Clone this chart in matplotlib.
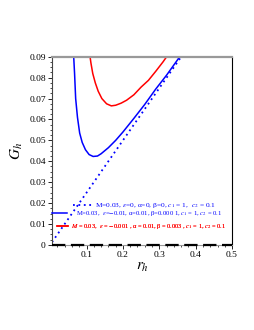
import matplotlib
matplotlib.use("Agg")
import matplotlib.pyplot as plt
from matplotlib.ticker import AutoMinorLocator

# values
r_dot = [0.005, 0.1, 0.2, 0.3, 0.365]
G_dot = [0.0013, 0.025, 0.05, 0.075, 0.0912]

r_blue = [0.064, 0.067, 0.070, 0.075, 0.081, 0.088, 0.097, 0.107, 0.118, 0.13,
          0.14, 0.16, 0.18, 0.20, 0.23, 0.26, 0.29, 0.32, 0.35, 0.365]
G_blue = [0.092, 0.082, 0.070, 0.061, 0.0535, 0.049, 0.0455, 0.0432, 0.0423, 0.0425,
          0.0436, 0.0465, 0.0500, 0.0540, 0.0605, 0.0672, 0.0745, 0.0812, 0.0885, 0.0922]

r_red = [0.108, 0.112, 0.117, 0.124, 0.132, 0.142, 0.155, 0.168, 0.18, 0.195,
         0.21, 0.23, 0.25, 0.27, 0.29, 0.31, 0.325]
G_red = [0.092, 0.087, 0.082, 0.0775, 0.0735, 0.070, 0.0675, 0.0665, 0.0668, 0.0678,
         0.0692, 0.0718, 0.0755, 0.0787, 0.0830, 0.0875, 0.0912]

r_zero = [0.005, 0.5]
G_zero = [0.0, 0.0]

labels = [
    r"M=0.03, $\epsilon$=0, α=0, β=0, $c_1$ = 1,  $c_2$ = 0.1",
    r"M=0.03,  $\epsilon$=$-$0.01, α=0.01, β=0.000 1, $c_1$ = 1, $c_2$ = 0.1",
    r"$M$ = 0.03,  $\epsilon$ = $-$0.001 , α = 0.01, β = 0.003 , $c_1$ = 1, $c_2$ = 0.1",
]
xticks = [0.1, 0.2, 0.3, 0.4, 0.5]
yticks = [0, 0.01, 0.02, 0.03, 0.04, 0.05, 0.06, 0.07, 0.08, 0.09]


def main():
    plt.rcParams['font.family'] = ['Liberation Serif', 'DejaVu Serif']
    plt.rcParams['mathtext.fontset'] = 'stix'

    fig = plt.figure(figsize=(2.55, 3.3), dpi=100)
    ax = fig.add_axes([0.204, 0.258, 0.706, 0.570])

    l1, = ax.plot(r_dot, G_dot, color='blue', lw=1.3, linestyle=(0, (1, 2)))
    l2, = ax.plot(r_blue, G_blue, color='blue', lw=1.1)
    l3, = ax.plot(r_red, G_red, color='red', lw=1.1)
    ax.plot(r_zero, G_zero, color='black', lw=1.6, linestyle=(0, (6, 2.5)), clip_on=False, zorder=5)

    ax.set_xlim(0.005, 0.5)
    ax.set_ylim(0, 0.09)
    ax.set_xticks(xticks)
    ax.set_xticklabels([str(t) for t in xticks])
    ax.set_yticks(yticks)
    ax.set_yticklabels(['0'] + [str(t) for t in yticks[1:]])
    ax.xaxis.set_minor_locator(AutoMinorLocator(5))
    ax.yaxis.set_minor_locator(AutoMinorLocator(4))
    ax.tick_params(which='major', direction='out', length=3, width=0.6, labelsize=6.8, pad=1.5)
    ax.tick_params(which='minor', direction='out', length=1.5, width=0.5)

    ax.spines['top'].set_color('#999999')
    ax.spines['top'].set_linewidth(1.6)
    ax.spines['left'].set_color('#444444')
    ax.spines['right'].set_color('black')
    ax.spines['bottom'].set_color('#999999')

    ax.set_xlabel(r"$r_h$", fontsize=11, labelpad=1)
    ax.set_ylabel(r"$G_h$", fontsize=11, labelpad=3)

    # one small legend per entry, placed like the reference's staggered key
    specs = [
        (l1, labels[0], 'blue', 5.3, (0.117, 0.207), 2.6, 0.4),
        (l2, labels[1], 'blue', 4.8, (0.0, 0.165), 2.25, 1.3),
        (l3, labels[2], 'red', 4.6, (0.028, 0.096), 1.7, 0.5),
    ]
    for handle, lab, col, fs, anchor, hl, hp in specs:
        leg = ax.legend([handle], [lab], loc='center left', bbox_to_anchor=anchor,
                        frameon=False, fontsize=fs, handlelength=hl, handletextpad=hp,
                        borderpad=0, borderaxespad=0)
        leg.get_texts()[0].set_color(col)
        ax.add_artist(leg)

    fig.savefig('out.png', dpi=100)


if __name__ == "__main__":
    main()
